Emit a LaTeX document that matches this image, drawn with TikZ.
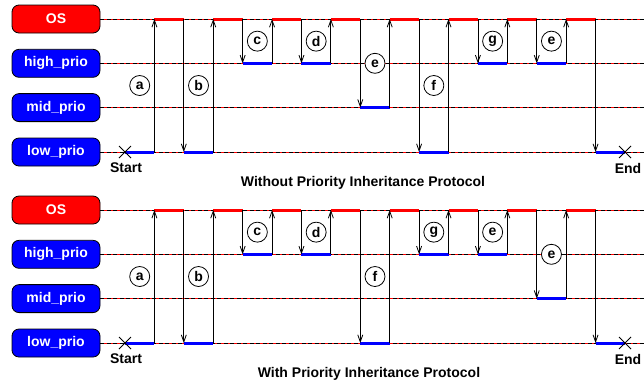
\documentclass[tikz,border=0pt]{standalone}
\usepackage{fontspec}
\setmainfont{Liberation Sans}
\usetikzlibrary{arrows.meta}
\newcommand{\tlpanel}[5]{%
  % #1 vertical offset, #2 lane of each interval, #3 tags, #4 name suffix, #5 title
  \foreach \nm/\txt/\i/\col in {os/OS/0/red, hi/high\_prio/1/blue, mi/mid\_prio/2/blue, lo/low\_prio/3/blue} {
    \pgfmathsetmacro\yy{{19,63.3,107.6,152}[\i]+#1}
    \node[lanebox, fill=\col] (\nm#4) at (56,\yy) {\txt};
    \coordinate (\nm#4r) at (644,\yy);
    \draw[guide] (\nm#4.east) -- (\nm#4r);
    \draw[guidedash] (\nm#4.east) -- (\nm#4r);
  }
  \foreach \k in {0,...,16} {
    \pgfmathtruncatemacro\L{{#2}[\k]}
    \pgfmathsetmacro\yy{{19,63.3,107.6,152}[\L]+#1}
    \pgfmathsetmacro\xa{125+29.41*\k}
    \pgfmathsetmacro\xb{125+29.41*(\k+1)}
    \coordinate (sa#4\k) at (\xa,\yy);
    \coordinate (sb#4\k) at (\xb,\yy);
    \ifnum\L=0 \draw[osrun] (sa#4\k) -- (sb#4\k); \else \draw[taskrun] (sa#4\k) -- (sb#4\k); \fi
  }
  \foreach \k in {1,...,16} {
    \pgfmathtruncatemacro\La{{#2}[\k-1]}
    \pgfmathtruncatemacro\Lb{{#2}[\k]}
    \pgfmathsetmacro\ya{{19,63.3,107.6,152}[\La]+#1}
    \pgfmathsetmacro\yb{{19,63.3,107.6,152}[\Lb]+#1}
    \pgfmathsetmacro\xa{125+29.41*\k}
    \coordinate (af#4\k) at (\xa,\ya);
    \coordinate (at#4\k) at (\xa,\yb);
    \draw[sw] (af#4\k) -- (at#4\k);
  }
  \foreach \k/\c in {#3} {
    \pgfmathtruncatemacro\L{{#2}[\k]}
    \pgfmathsetmacro\yy{(19+{19,63.3,107.6,152}[\L])/2+#1}
    \pgfmathsetmacro\xm{125+29.41*(\k+0.5)}
    \node[tag] (tag#4\k) at (\xm,\yy) {\c};
  }
  \coordinate (start#4) at (125,152+#1);
  \coordinate (end#4) at (625,152+#1);
  \draw[cross] (start#4) ++(-6,-6) -- ++(12,12) ++(0,-12) -- ++(-12,12);
  \draw[cross] (end#4) ++(-6,-6) -- ++(12,12) ++(0,-12) -- ++(-12,12);
  \node (startlbl#4) at (126,168+#1) {Start};
  \node (endlbl#4) at (628,168+#1) {End};
}
\begin{document}
\begin{tikzpicture}[x=1pt,y=-1pt, font=\fontsize{14}{16}\selectfont\bfseries,
  lanebox/.style={draw=black, line width=0.8pt, rounded corners=7pt, minimum width=88pt, minimum height=28pt, text=white, inner sep=0pt},
  guide/.style={red, line width=0.9pt},
  guidedash/.style={black, line width=0.9pt, dash pattern=on 4pt off 2.5pt},
  osrun/.style={red, line width=3pt},
  taskrun/.style={blue, line width=3pt},
  sw/.style={black, line width=0.8pt, -{Straight Barb[length=7pt,width=5pt]}},
  tag/.style={circle, draw, fill=white, line width=0.8pt, minimum size=20pt, inner sep=0pt},
  cross/.style={black, line width=0.8pt},
  ]
\useasboundingbox (0,0) rectangle (644,384);
\tlpanel{0}{3,0,3,0,1,0,1,0,2,0,3,0,1,0,1,0,3}{0/a,2/b,4/c,6/d,8/e,10/f,12/g,14/e}{A}{}
\tlpanel{191}{3,0,3,0,1,0,1,0,3,0,1,0,1,0,2,0,3}{0/a,2/b,4/c,6/d,8/f,10/g,12/e,14/e}{B}{}
\node (titleA) at (363,183) {Without Priority Inheritance Protocol};
\node (titleB) at (369,374) {With Priority Inheritance Protocol};
\end{tikzpicture}
\end{document}
